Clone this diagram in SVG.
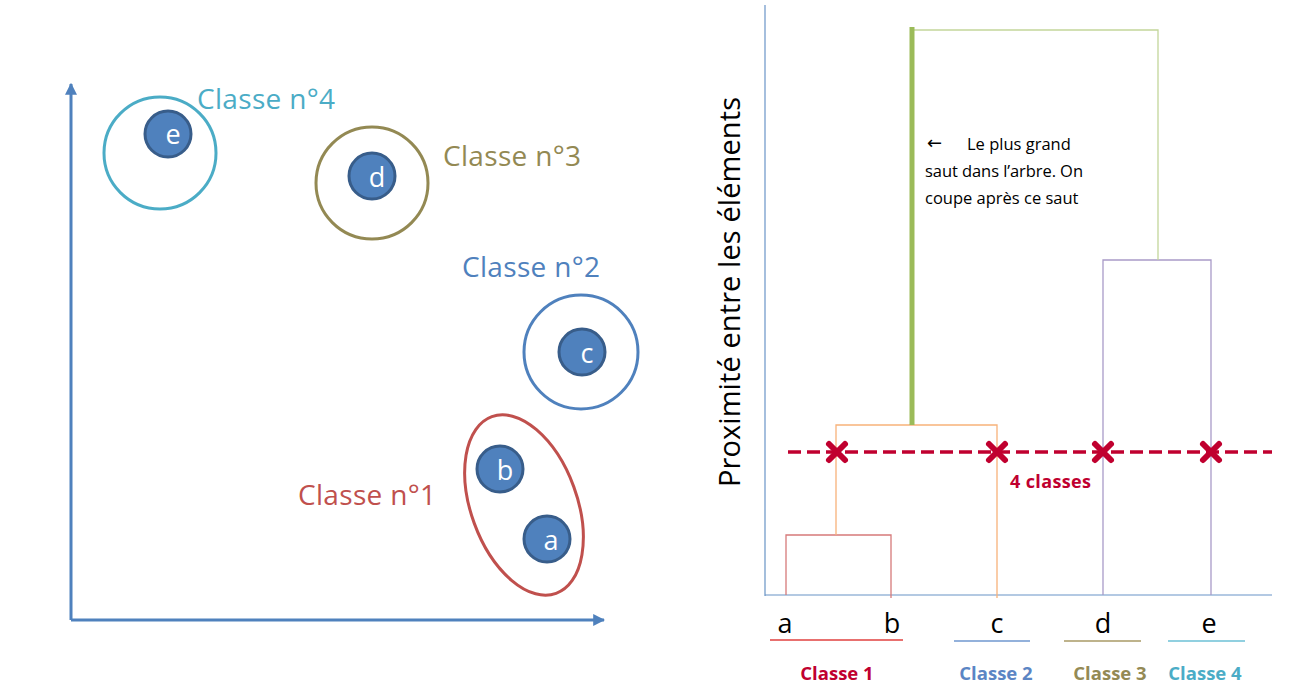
<svg xmlns="http://www.w3.org/2000/svg" width="1296" height="695" viewBox="0 0 1296 695">
<defs>
<marker id="ah" viewBox="0 0 10 10" refX="9" refY="5" markerWidth="4" markerHeight="4" orient="auto" markerUnits="strokeWidth"><path d="M0,0 L10,5 L0,10 z" fill="#4F81BD"/></marker>
<style>
.node circle{fill:#4F81BD;stroke:#385D8A;stroke-width:3}
.node text{fill:#fff;font-family:"Open Sans",sans-serif;font-size:27px;text-anchor:middle}
.lbl{font-family:"Open Sans",sans-serif;font-size:28px}
.leaf{font-family:"Open Sans",sans-serif;font-size:27px;fill:#000;text-anchor:middle}
.cls{font-family:"Open Sans",sans-serif;font-size:18.5px;font-weight:bold;text-anchor:middle}
.x{stroke:#C0002F;stroke-width:6;stroke-linecap:round}
.den{fill:none;stroke-width:1.3}
</style>
</defs>
<rect width="1296" height="695" fill="#fff"/>
<g id="axes-left" stroke="#4F81BD" stroke-width="3" fill="none">
<line x1="71" y1="620" x2="71" y2="84" marker-end="url(#ah)"/>
<line x1="71" y1="620" x2="604" y2="620" marker-end="url(#ah)"/>
</g>
<g id="cluster4"><circle cx="160" cy="153" r="56" fill="none" stroke="#4BACC6" stroke-width="3"/><text class="lbl" x="197" y="109" fill="#4BACC6" textLength="138">Classe n°4</text></g>
<g id="cluster3"><circle cx="372" cy="183" r="56" fill="none" stroke="#938953" stroke-width="3"/><text class="lbl" x="443" y="166" fill="#938953" textLength="138">Classe n°3</text></g>
<g id="cluster2"><circle cx="581" cy="352" r="57" fill="none" stroke="#4F81BD" stroke-width="3"/><text class="lbl" x="462" y="277" fill="#4F81BD" textLength="138">Classe n°2</text></g>
<g id="cluster1"><ellipse cx="524" cy="505" rx="53" ry="94" transform="rotate(-20 524 505)" fill="none" stroke="#C0504D" stroke-width="3"/><text class="lbl" x="298" y="505" fill="#C0504D" textLength="138">Classe n°1</text></g>
<g id="node-e" class="node"><circle cx="168" cy="134" r="23"/><text x="173" y="144">e</text></g>
<g id="node-d" class="node"><circle cx="372" cy="176" r="23"/><text x="377" y="187">d</text></g>
<g id="node-c" class="node"><circle cx="582" cy="352" r="23"/><text x="587" y="363">c</text></g>
<g id="node-b" class="node"><circle cx="500" cy="469" r="23"/><text x="505" y="480">b</text></g>
<g id="node-a" class="node"><circle cx="547" cy="539" r="23"/><text x="551" y="550">a</text></g>

<g id="axes-right" stroke="#4F81BD" stroke-width="1.2" fill="none" opacity="0.85">
<line x1="765" y1="5" x2="765" y2="596"/>
<line x1="765" y1="595" x2="1272" y2="595"/>
</g>
<text transform="translate(740 292) rotate(-90)" font-family="Open Sans, sans-serif" font-size="29" text-anchor="middle" fill="#000" textLength="390">Proximité entre les éléments</text>
<g id="connectors">
<path class="den" stroke="#D67A7A" d="M786,595 V535 H891 V598"/>
<path class="den" stroke="#F8B27A" d="M836,535 V425 H997 V598"/>
<path class="den" stroke="#A99BC8" d="M1103,595 V260 H1211 V595"/>
<path class="den" stroke="#C3D69B" d="M912,30 H1158 V260"/>
<line x1="912" y1="425" x2="912" y2="27" stroke="#9BBB59" stroke-width="5"/>
</g>
<g id="cut">
<line x1="788" y1="452" x2="1272" y2="452" stroke="#C0002F" stroke-width="3.5" stroke-dasharray="13 6"/>
<g class="x"><path d="M829,444 L845,460 M845,444 L829,460"/><path d="M989,444 L1005,460 M1005,444 L989,460"/><path d="M1095,444 L1111,460 M1111,444 L1095,460"/><path d="M1203,444 L1219,460 M1219,444 L1203,460"/></g>
<text x="1010" y="488" font-family="Open Sans, sans-serif" font-size="18" font-weight="bold" fill="#C0002F" textLength="81">4 classes</text>
</g>
<g id="annotation" font-family="Open Sans, sans-serif" font-size="16.5" fill="#000">
<text x="927" y="149" font-family="DejaVu Sans, sans-serif" font-size="18">←</text>
<text x="967" y="150">Le plus grand</text>
<text x="925" y="177" textLength="158">saut dans l’arbre. On</text>
<text x="925" y="204">coupe après ce saut</text>
</g>
<g id="leaves">
<text class="leaf" x="785" y="633">a</text>
<text class="leaf" x="892" y="633">b</text>
<text class="leaf" x="997" y="633">c</text>
<text class="leaf" x="1103" y="633">d</text>
<text class="leaf" x="1209" y="633">e</text>
</g>
<g id="classes" stroke-width="1.5">
<line x1="770" y1="640" x2="903" y2="640" stroke="#E0403F"/>
<line x1="954" y1="641" x2="1030" y2="641" stroke="#6F97CF"/>
<line x1="1064" y1="641" x2="1141" y2="641" stroke="#A89A66"/>
<line x1="1168" y1="641" x2="1245" y2="641" stroke="#6CC0D6"/>
<text class="cls" x="837" y="680" fill="#C0002F">Classe 1</text>
<text class="cls" x="996" y="680" fill="#5B85C4">Classe 2</text>
<text class="cls" x="1110" y="680" fill="#948A55">Classe 3</text>
<text class="cls" x="1205" y="680" fill="#4BACC6">Classe 4</text>
</g>
</svg>
